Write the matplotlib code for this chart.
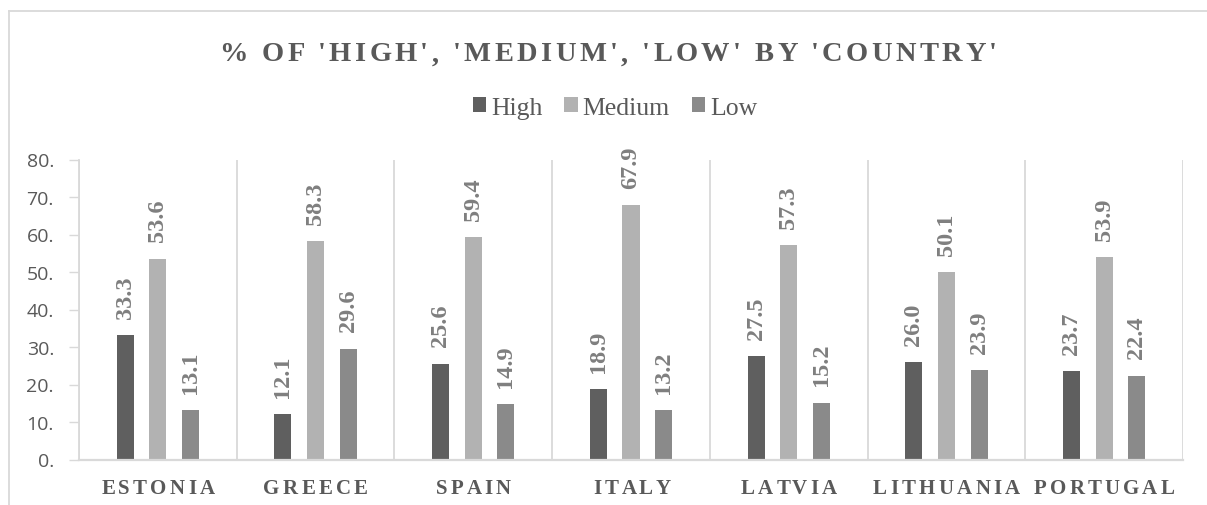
import matplotlib
matplotlib.use("Agg")
import matplotlib.pyplot as plt
from matplotlib.font_manager import FontProperties
from matplotlib.lines import Line2D
from matplotlib.transforms import IdentityTransform
import numpy as np

countries = ["ESTONIA", "GREECE", "SPAIN", "ITALY", "LATVIA", "LITHUANIA", "PORTUGAL"]
series_names = ["High", "Medium", "Low"]
high = [33.3, 12.1, 25.6, 18.9, 27.5, 26.0, 23.7]
medium = [53.6, 58.3, 59.4, 67.9, 57.3, 50.1, 53.9]
low = [13.1, 29.6, 14.9, 13.2, 15.2, 23.9, 22.4]
yticks = [0, 10, 20, 30, 40, 50, 60, 70, 80]
title = "% OF 'HIGH', 'MEDIUM', 'LOW' BY 'COUNTRY'"

colors = ["#5f5f5f", "#b2b2b2", "#8a8a8a"]
TXT = "#595959"
LBL = "#7f7f7f"
GRID = "#d9d9d9"
SERIF = ["Liberation Serif", "DejaVu Serif"]

W, H, DPI = 1207, 506, 100
fig = plt.figure(figsize=(W / DPI, H / DPI), dpi=DPI)
ax = fig.add_axes([79 / W, 45.5 / H, (1183 - 79) / W, (460.5 - 160.5) / H])

x = np.arange(len(countries))
offset, width = 0.207, 0.108
bars = []
for k, vals in enumerate([high, medium, low]):
    b = ax.bar(x + (k - 1) * offset, vals, width, color=colors[k], label=series_names[k], zorder=3)
    bars.append(b)
    for xi, v in zip(x + (k - 1) * offset, vals):
        ax.annotate(f"{v:.1f}", (xi, v), xytext=(0, 17), textcoords="offset pixels",
                    rotation=90, ha="center", va="bottom", color=LBL,
                    fontsize=17.5, fontweight="bold", family=SERIF, zorder=4)

ax.set_xlim(-0.5, len(countries) - 0.5)
ax.set_ylim(0, 80)
ax.set_yticks(yticks)
ax.set_yticklabels([f"{t}." for t in yticks], family=["Open Sans", "DejaVu Sans"], fontsize=14, color=TXT)
ax.tick_params(axis="y", length=7, width=1, color=GRID, pad=11)
ax.set_xticks(x)
ax.set_xticklabels([""] * len(x))
ax.tick_params(axis="x", length=0)
ax.set_xticks(np.arange(-0.5, len(countries)), minor=True)
ax.tick_params(axis="x", which="minor", length=0)
ax.grid(axis="x", which="minor", color=GRID, lw=1.3, zorder=0)
ax.grid(axis="x", which="major", visible=False)
for s in ["top", "right"]:
    ax.spines[s].set_visible(False)
ax.spines["left"].set_color(GRID)
ax.spines["left"].set_linewidth(1.3)
ax.spines["bottom"].set_color(GRID)
ax.spines["bottom"].set_linewidth(1.6)
ax.spines["bottom"].set_zorder(5)

renderer = fig.canvas.get_renderer()


def spaced_text(s, cx, cy, fp, spacing, color):
    """Draw text in display pixels with extra letter spacing, centred at (cx, cy)."""
    def w(t):
        return renderer.get_text_width_height_descent(t, fp, ismath=False)[0]
    ref = w("x")
    pos = [w(s[:i] + "x") - ref for i in range(len(s))]
    total = w(s) + (len(s) - 1) * spacing
    x0 = cx - total / 2
    for i, ch in enumerate(s):
        if ch == " ":
            continue
        fig.text(x0 + pos[i] + i * spacing, cy, ch, fontproperties=fp, color=color,
                 ha="left", va="center_baseline", transform=IdentityTransform())


# title
fp_title = FontProperties(family=SERIF, weight="bold", size=20.5)
spaced_text(title, 608, H - 52, fp_title, 3.4, TXT)

# category labels
fp_cat = FontProperties(family=SERIF, weight="bold", size=15)
for i, c in enumerate(countries):
    px = ax.transData.transform((i, 0))[0]
    spaced_text(c, px, H - 487, fp_cat, 3.3, TXT)

# legend
leg = fig.legend(handles=bars, labels=series_names, loc="center", bbox_to_anchor=(615 / W, 1 - 109 / H),
                 ncol=3, frameon=False, prop=FontProperties(family=SERIF, size=18.5),
                 handlelength=0.52, handleheight=0.52, handletextpad=0.2, columnspacing=0.85,
                 borderpad=0, borderaxespad=0)
for t in leg.get_texts():
    t.set_color(TXT)

# chart frame (cropped on right/bottom)
fig.add_artist(Line2D([9 / W, 1], [1 - 12 / H, 1 - 12 / H], color=GRID, lw=1.3, transform=fig.transFigure))
fig.add_artist(Line2D([9 / W, 9 / W], [0, 1 - 12 / H], color=GRID, lw=1.3, transform=fig.transFigure))

fig.savefig("out.png", dpi=DPI)
